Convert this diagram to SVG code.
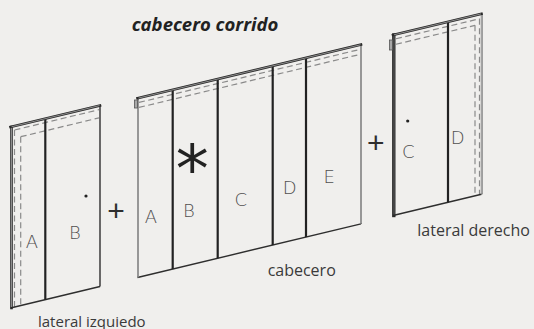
<svg xmlns="http://www.w3.org/2000/svg" width="534" height="329" viewBox="0 0 534 329">
<style>
.bg{fill:#f0efed}
.face{fill:#f0efed;stroke:none}
.dk{stroke:#2a2a2a;stroke-width:2.6;fill:none;stroke-linecap:square}
.lt{stroke:#9a9a9a;stroke-width:0.9;fill:none}
.ln{stroke:#2e2e2e;stroke-width:1.4;fill:none}
.dv{stroke:#222;stroke-width:2.2;fill:none}
.gr{stroke:#7a7a7a;stroke-width:2;fill:none}
.gri{stroke:#cfcfcf;stroke-width:0.7;fill:none}
.dash{stroke:#8a8a8a;stroke-width:1.2;fill:none;stroke-dasharray:6 3.5}
.br{fill:#a8a8a8;stroke:#555;stroke-width:0.8}
.lab{font-family:"DejaVu Sans","Liberation Sans",sans-serif;font-weight:200;font-size:18px;fill:#505050;text-anchor:middle}
.cap{font-family:"Open Sans","Noto Sans",sans-serif;font-size:16px;fill:#3a3a3a}
.plus{font-family:"Liberation Sans",Arial,sans-serif;font-size:30px;fill:#2e2e2e;text-anchor:middle}
.title{font-family:"Open Sans","Noto Sans",sans-serif;font-weight:bold;font-style:italic;font-size:18.5px;fill:#222}
</style>
<rect class="bg" x="0" y="0" width="534" height="329"/>
<text class="title" x="131.7" y="30.5">cabecero corrido</text>

<g id="lateral-izquierdo">
  <polygon class="face" points="10.5,127 100,105.5 100,286.5 10.5,308"/>
  <line class="dash" x1="14.5" y1="130" x2="99" y2="109.7"/>
  <line class="dash" x1="14.5" y1="130" x2="14.5" y2="307"/>
  <line class="dash" x1="20.7" y1="136.7" x2="99" y2="117.9"/>
  <line class="dash" x1="20.7" y1="136.7" x2="20.7" y2="305.5"/>
  <line class="ln" x1="100" y1="105.5" x2="100" y2="286.5"/>
  <line class="ln" x1="10.5" y1="308" x2="100" y2="286.5"/>
  <line class="dv" x1="45.3" y1="118.6" x2="45.3" y2="299.6"/>
  <line class="dk" x1="11.5" y1="127" x2="11.5" y2="308"/>
  <line class="lt" x1="11.5" y1="128" x2="11.5" y2="307"/>
  <line class="dk" x1="10.5" y1="127" x2="100" y2="105.5"/>
  <line class="lt" x1="11.5" y1="126.8" x2="99.5" y2="105.6"/>
  <circle cx="86" cy="196" r="1.6" fill="#222"/>
  <text class="lab" x="32" y="248.3">A</text>
  <text class="lab" x="75" y="239.3">B</text>
  <text class="cap" x="38" y="327" style="font-size:15px">lateral izquiedo</text>
</g>

<text class="plus" x="116" y="220.5">+</text>

<g id="cabecero">
  <polygon class="face" points="137.5,98.3 361,44.66 361,223.9 137.5,277.5"/>
  <line class="dash" x1="139" y1="102.44" x2="360" y2="49.4"/>
  <line class="dash" x1="139" y1="107.44" x2="360" y2="54.4"/>
  <line class="ln" x1="137.5" y1="277.5" x2="361" y2="223.9"/>
  <line class="gr" x1="361" y1="44.66" x2="361" y2="223.9"/>
  <line class="gri" x1="361" y1="46" x2="361" y2="223"/>
  <line class="dv" x1="172.7" y1="89.85" x2="172.7" y2="269.05"/>
  <line class="dv" x1="217.7" y1="79.05" x2="217.7" y2="258.25"/>
  <line class="dv" x1="272.7" y1="65.85" x2="272.7" y2="245.05"/>
  <line class="dv" x1="306" y1="57.86" x2="306" y2="237.06"/>
  <line class="gr" x1="138" y1="98.3" x2="138" y2="277.5"/>
  <line class="gri" x1="138" y1="99.5" x2="138" y2="276.5"/>
  <line class="dk" x1="137.5" y1="98.3" x2="361" y2="44.66"/>
  <line class="lt" x1="138.5" y1="98.06" x2="360.5" y2="44.78"/>
  <rect class="br" x="134.5" y="100" width="3" height="8"/>
  <text x="192.3" y="191.6" style="font-family:'DejaVu Sans',sans-serif;font-size:66px;fill:#222;text-anchor:middle">*</text>
  <text class="lab" x="151" y="223.3">A</text>
  <text class="lab" x="189" y="217.3">B</text>
  <text class="lab" x="240.7" y="206">C</text>
  <text class="lab" x="289.7" y="194.3">D</text>
  <text class="lab" x="329.3" y="183.3">E</text>
  <text class="cap" x="301.7" y="276" text-anchor="middle">cabecero</text>
</g>

<text class="plus" x="375.7" y="153.2">+</text>

<g id="lateral-derecho">
  <polygon class="face" points="393,35 481.5,13.76 481.5,194.3 393,215.5"/>
  <line class="dash" x1="396" y1="38.78" x2="479.5" y2="18.74"/>
  <line class="dash" x1="479.5" y1="18.74" x2="479.5" y2="194.74"/>
  <line class="dash" x1="396" y1="44.28" x2="475" y2="25.32"/>
  <line class="dash" x1="475" y1="25.32" x2="475" y2="195.8"/>
  <line class="ln" x1="393" y1="215.5" x2="481.5" y2="194.3"/>
  <line class="gr" x1="481.8" y1="13.76" x2="481.8" y2="194.3"/>
  <line class="gri" x1="481.8" y1="15" x2="481.8" y2="193.5"/>
  <line class="dv" x1="448" y1="21.8" x2="448" y2="202.3"/>
  <line class="dk" x1="393.8" y1="35" x2="393.8" y2="215.5" style="stroke-width:3.4"/>
  <line class="lt" x1="394" y1="36" x2="394" y2="214.5" style="stroke:#666"/>
  <line class="dk" x1="393" y1="35" x2="481.5" y2="13.76"/>
  <line class="lt" x1="394" y1="34.8" x2="481" y2="13.9"/>
  <rect class="br" x="389.5" y="40" width="3" height="10"/>
  <circle cx="407.7" cy="121" r="1.6" fill="#222"/>
  <text class="lab" x="408.3" y="158.3">C</text>
  <text class="lab" x="457.7" y="144.3">D</text>
  <text class="cap" x="417.3" y="236">lateral derecho</text>
</g>
</svg>
